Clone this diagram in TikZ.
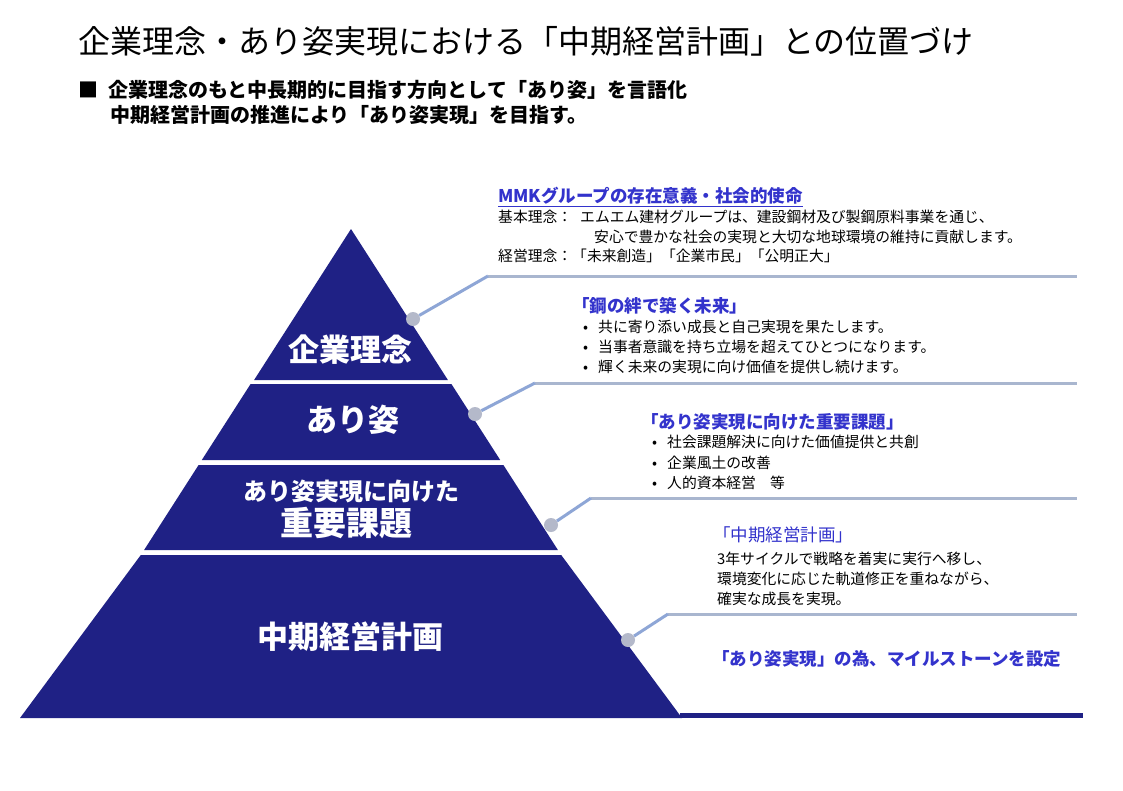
\documentclass[tikz,border=0pt]{standalone}
\usepackage{fontspec}
\setmainfont{Noto Sans CJK JP}
\definecolor{navy}{HTML}{1F2185}
\definecolor{tblue}{HTML}{3333CC}
\definecolor{lnc}{HTML}{A9B6CF}
\definecolor{dgc}{HTML}{8EA6D6}
\definecolor{dotc}{HTML}{B4B9CA}
\begin{document}
\begin{tikzpicture}[x=1pt,y=-1pt,
  tier/.style={fill=navy},
  tierlab/.style={text=white,font=\bfseries,anchor=center,inner sep=0},
  body/.style={anchor=west,inner sep=0,font=\fontsize{14.8}{17}\selectfont},
  btitle/.style={anchor=west,inner sep=0,text=tblue,font=\fontsize{17.5}{20}\selectfont\bfseries},
  dotn/.style={circle,fill=dotc,minimum size=14pt,inner sep=0},
  diag/.style={dgc,line width=3pt},
  hline/.style={lnc,line width=3pt}]
\useasboundingbox[fill=white] (0,0) rectangle (1123,790);
% pyramid
\fill[tier] (351,229) -- (447.9,380) -- (254.1,380) -- cycle;
\fill[tier] (250.6,384) -- (451.4,384) -- (500.2,460) -- (201.8,460) -- cycle;
\fill[tier] (198.6,465) -- (503.4,465) -- (557.9,550) -- (144.1,550) -- cycle;
\fill[tier] (140.8,555) -- (561.2,555) -- (682,718) -- (20,718) -- cycle;
\fill[navy] (680,713) rectangle (1083,718);
\node[tierlab,font=\fontsize{31}{34}\selectfont\bfseries] (t1) at (350,350) {企業理念};
\node[tierlab,font=\fontsize{31}{34}\selectfont\bfseries] (t2) at (353,420) {あり姿};
\node[tierlab,font=\fontsize{24}{27}\selectfont\bfseries] (t3a) at (351,491) {あり姿実現に向けた};
\node[tierlab,font=\fontsize{33}{36}\selectfont\bfseries] (t3b) at (346,523) {重要課題};
\node[tierlab,font=\fontsize{31}{34}\selectfont\bfseries] (t4) at (350,637) {中期経営計画};
% connectors
\coordinate (k1) at (488,276); \coordinate (e1) at (1077,276);
\coordinate (k2) at (535,383); \coordinate (e2) at (1077,383);
\coordinate (k3) at (591,498); \coordinate (e3) at (1077,498);
\coordinate (k4) at (668,614); \coordinate (e4) at (1077,614);
\draw[hline] (k1) -- (e1); \draw[hline] (k2) -- (e2);
\draw[hline] (k3) -- (e3); \draw[hline] (k4) -- (e4);
\node[dotn] (d1) at (413,319) {};
\node[dotn] (d2) at (475,414) {};
\node[dotn] (d3) at (551,525) {};
\node[dotn] (d4) at (628,640) {};
\draw[diag] (d1) -- (k1); \draw[diag] (d2) -- (k2);
\draw[diag] (d3) -- (k3); \draw[diag] (d4) -- (k4);
% header
\node[anchor=west,inner sep=0,font=\fontsize{32}{36}\selectfont] (title) at (78,41) {企業理念・あり姿実現における「中期経営計画」との位置づけ};
\node[anchor=west,inner sep=0,font=\fontsize{20}{23}\selectfont\bfseries] (s1) at (78,90) {■\hspace{10pt}企業理念のもと中長期的に目指す方向として「あり姿」を言語化};
\node[anchor=west,inner sep=0,font=\fontsize{20}{23}\selectfont\bfseries] (s2) at (110,115) {中期経営計画の推進により「あり姿実現」を目指す。};
% block 1
\node[btitle] (b1) at (498,197) {\underline{MMKグループの存在意義・社会的使命}};
\node[body] (b1a) at (498,217) {基本理念：\hspace{8pt}エムエム建材グループは、建設鋼材及び製鋼原料事業を通じ、};
\node[body] (b1b) at (594,237) {安心で豊かな社会の実現と大切な地球環境の維持に貢献します。};
\node[body] (b1c) at (498,256) {経営理念：\hspace{0pt}「未来創造」「企業市民」「公明正大」};
% block 2
\node[btitle] (b2) at (572,306) {「鋼の絆で築く未来」};
\node[body] (b2a) at (583,327) {•\hspace{10pt}共に寄り添い成長と自己実現を果たします。};
\node[body] (b2b) at (583,347) {•\hspace{10pt}当事者意識を持ち立場を超えてひとつになります。};
\node[body] (b2c) at (583,367) {•\hspace{10pt}輝く未来の実現に向け価値を提供し続けます。};
% block 3
\node[btitle] (b3) at (641,422) {「あり姿実現に向けた重要課題」};
\node[body] (b3a) at (652,442) {•\hspace{10pt}社会課題解決に向けた価値提供と共創};
\node[body] (b3b) at (652,463) {•\hspace{10pt}企業風土の改善};
\node[body] (b3c) at (652,483) {•\hspace{10pt}人的資本経営\hspace{14pt}等};
% block 4
\node[btitle,font=\fontsize{17.5}{20}\selectfont] (b4) at (713,535) {「中期経営計画」};
\node[body] (b4a) at (717,559) {3年サイクルで戦略を着実に実行へ移し、};
\node[body] (b4b) at (717,579) {環境変化に応じた軌道修正を重ねながら、};
\node[body] (b4c) at (717,599) {確実な成長を実現。};
\node[btitle,font=\fontsize{17.5}{20}\selectfont\bfseries] (b5) at (712,659) {「あり姿実現」の為、マイルストーンを設定};
\end{tikzpicture}
\end{document}
